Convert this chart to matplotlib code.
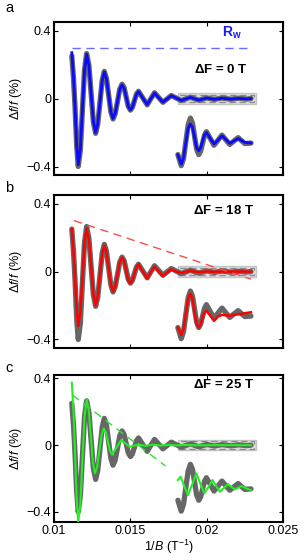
import matplotlib
matplotlib.use("Agg")
import matplotlib.pyplot as plt
from matplotlib.patches import Rectangle

plt.rcParams['font.family'] = ['Liberation Sans', 'DejaVu Sans']
plt.rcParams['mathtext.fontset'] = 'custom'
plt.rcParams['mathtext.rm'] = 'Liberation Sans'
plt.rcParams['mathtext.it'] = 'Liberation Sans:italic'
plt.rcParams['mathtext.bf'] = 'Liberation Sans:bold'

# measured oscillation (same in all panels) and fits, on a shared 1/B grid
x_main = [0.01116, 0.01127, 0.01137, 0.01148, 0.01158,
          0.01172, 0.011855, 0.01199, 0.01213,
          0.01228, 0.012425, 0.01257, 0.01272,
          0.01286, 0.013005, 0.01315, 0.01329,
          0.01343, 0.013575, 0.01372, 0.01386,
          0.014, 0.014155, 0.0143, 0.01445,
          0.01459, 0.014725, 0.01486, 0.0150,
          0.01513, 0.015265, 0.0154, 0.01553,
          0.015815, 0.0161, 0.01634, 0.01658,
          0.016855, 0.01713, 0.017405, 0.01768,
          0.0180, 0.01833, 0.01863, 0.01893,
          0.0192, 0.01948,
          0.0200, 0.0205, 0.0210, 0.0216, 0.0221, 0.0226, 0.0229]
y_data = [0.25, 0.12, -0.05, -0.28, -0.40,
          -0.303, -0.068, 0.167, 0.265,
          0.196, 0.03, -0.136, -0.205,
          -0.151, -0.022, 0.107, 0.16,
          0.119, 0.02, -0.079, -0.12,
          -0.090, -0.017, 0.055, 0.085,
          0.063, 0.008, -0.046, -0.068,
          -0.052, -0.012, 0.027, 0.043,
          0.003, -0.037, -0.001, 0.034,
          0.006, -0.022, -0.002, 0.018,
          0.003, -0.012, -0.002, 0.008,
          -0.001, -0.010,
          0.004, -0.005, 0.003, -0.004, 0.002, -0.003, 0.0]
y_fit_a = [0.27, 0.13, -0.05, -0.28, -0.39,
           -0.297, -0.065, 0.165, 0.262,
           0.194, 0.03, -0.134, -0.20,
           -0.148, -0.022, 0.105, 0.156,
           0.117, 0.02, -0.078, -0.117,
           -0.088, -0.017, 0.053, 0.081,
           0.060, 0.008, -0.045, -0.067,
           -0.051, -0.012, 0.026, 0.041,
           0.003, -0.035, -0.001, 0.032,
           0.005, -0.021, -0.002, 0.017,
           0.003, -0.011, -0.002, 0.007,
           -0.001, -0.009,
           0.003, -0.004, 0.002, -0.003, 0.001, -0.002, 0.0]
y_fit_b = [0.25, 0.12, -0.04, -0.22, -0.32,
           -0.24, -0.04, 0.165, 0.255,
           0.19, 0.028, -0.13, -0.20,
           -0.148, -0.022, 0.105, 0.153,
           0.115, 0.018, -0.078, -0.117,
           -0.088, -0.017, 0.057, 0.083,
           0.062, 0.007, -0.05, -0.07,
           -0.053, -0.013, 0.027, 0.043,
           0.0, -0.041, -0.004, 0.029,
           0.002, -0.027, -0.005, 0.013,
           0.0, -0.008, -0.001, 0.004,
           0.0, -0.003,
           0.001, -0.001, 0.0, 0.0, 0.0, 0.0, 0.0]

x_fit_c = [0.01116, 0.01127, 0.01137, 0.01148, 0.01158,
           0.01172, 0.011855, 0.01199, 0.01213,
           0.01227, 0.012405, 0.01254, 0.01268,
           0.01282, 0.012965, 0.01311, 0.01325,
           0.01339, 0.013525, 0.01366, 0.0138,
           0.014095, 0.01439, 0.01467, 0.01495,
           0.0155, 0.016, 0.0165, 0.017, 0.0175, 0.018,
           0.0185, 0.0195, 0.0205, 0.0229]
y_fit_c = [0.374, 0.2, -0.04, -0.33, -0.46,
           -0.352, -0.0925, 0.167, 0.275,
           0.21, 0.053, -0.104, -0.169,
           -0.13, -0.0345, 0.06, 0.10,
           0.077, 0.022, -0.033, -0.056,
           -0.013, 0.03, 0.01, -0.01,
           0.003, -0.004, 0.003, -0.003, 0.002, -0.002,
           0.001, -0.001, 0.0, 0.0]

# magnified tail (0.018-0.023), shown offset below
x_inset = [0.01811, 0.01833, 0.01848, 0.01863, 0.01878, 0.01893, 0.01907,
           0.019205, 0.01934, 0.01948, 0.0196, 0.01973, 0.01986, 0.01998,
           0.02023, 0.02048, 0.02074, 0.021, 0.02125, 0.02151, 0.02178,
           0.02206, 0.02228, 0.0225, 0.0229]
y_inset_data = [-0.33, -0.395, -0.354, -0.255, -0.156, -0.115, -0.146,
                -0.2225, -0.298, -0.33, -0.31, -0.2625, -0.215, -0.195,
                -0.235, -0.275, -0.245, -0.215, -0.2425, -0.27, -0.25,
                -0.23, -0.248, -0.265, -0.262]
y_inset_a = [-0.331, -0.386, -0.35, -0.26, -0.175, -0.15, -0.17,
             -0.23, -0.29, -0.308, -0.29, -0.25, -0.212, -0.20,
             -0.234, -0.268, -0.244, -0.219, -0.241, -0.264, -0.25,
             -0.235, -0.247, -0.258, -0.262]
y_inset_b = [-0.33, -0.375, -0.34, -0.25, -0.16, -0.13, -0.16,
             -0.24, -0.31, -0.33, -0.31, -0.27, -0.24, -0.23,
             -0.26, -0.29, -0.265, -0.255, -0.258, -0.26, -0.255,
             -0.252, -0.25, -0.245, -0.24]
x_inset_c = [0.01811, 0.01829, 0.01853, 0.01877, 0.01905, 0.01932, 0.01958,
             0.01985, 0.02012, 0.02038, 0.02062, 0.02086, 0.02113, 0.0214,
             0.02162, 0.02184, 0.02206, 0.02228, 0.0226, 0.0229]
y_inset_c = [-0.209, -0.189, -0.245, -0.299, -0.235, -0.169, -0.23,
             -0.288, -0.25, -0.209, -0.245, -0.279, -0.256, -0.233,
             -0.25, -0.265, -0.255, -0.245, -0.26, -0.269]

# envelope guides
env_a_x = [0.0112, 0.0229]
env_a_y = [0.30, 0.30]
env_b_x = [0.0113, 0.0229]
env_b_y = [0.30, -0.045]
env_c_x = [0.0112, 0.0173]
env_c_y = [0.30, -0.125]

box_x = [0.0181, 0.0232]
box_y = [-0.03, 0.03]

panels = [
    dict(letter='a', label=r'$\mathbf{\Delta F}$ = 0 T', label_pos=(0.0209, 0.17),
         color='#0a0aff', lw=2.0, env_color='#6b6bff',
         fit=(x_main, y_fit_a), inset=(x_inset, y_inset_a),
         env=(env_a_x, env_a_y), ylim=(-0.45, 0.45), rect=[0.178, 0.6875, 0.753, 0.273]),
    dict(letter='b', label=r'$\mathbf{\Delta F}$ = 18 T', label_pos=(0.0211, 0.36),
         color='#ff0000', lw=1.8, env_color='#ff4a4a',
         fit=(x_main, y_fit_b), inset=(x_inset, y_inset_b),
         env=(env_b_x, env_b_y), ylim=(-0.45, 0.45), rect=[0.178, 0.3786, 0.753, 0.273]),
    dict(letter='c', label=r'$\mathbf{\Delta F}$ = 25 T', label_pos=(0.0211, 0.36),
         color='#22ee22', lw=1.5, env_color='#33dd33',
         fit=(x_fit_c, y_fit_c), inset=(x_inset_c, y_inset_c),
         env=(env_c_x, env_c_y), ylim=(-0.46, 0.42), rect=[0.178, 0.0679, 0.753, 0.2625]),
]

fig = plt.figure(figsize=(3.04, 5.6), dpi=100)

for i, p in enumerate(panels):
    ax = fig.add_axes(p['rect'])

    ax.add_patch(Rectangle((box_x[0], box_y[0]), box_x[1] - box_x[0], box_y[1] - box_y[0],
                           facecolor='#dcdcdc', edgecolor='#c4c4c4', lw=1.0, zorder=1))
    ax.add_patch(Rectangle((box_x[0] + 0.00008, box_y[0] + 0.008),
                           box_x[1] - box_x[0] - 0.00016, box_y[1] - box_y[0] - 0.016,
                           facecolor='none', edgecolor='#8a8a8a', lw=0.9,
                           ls=(0, (5, 3)), zorder=2))

    ax.plot(x_main, y_data, color='#666666', lw=3.8, solid_capstyle='round', zorder=3)
    ax.plot(x_inset, y_inset_data, color='#666666', lw=3.8, solid_capstyle='round', zorder=3)
    ax.plot(*p['fit'], color=p['color'], lw=p['lw'], zorder=4)
    ax.plot(*p['inset'], color=p['color'], lw=p['lw'], zorder=4)
    ax.plot(*p['env'], color=p['env_color'], lw=1.0, ls=(0, (6, 4)), zorder=5)

    ax.text(*p['label_pos'], p['label'], fontsize=9.5, fontweight='bold',
            ha='center', va='center')
    if i == 0:
        ax.text(0.02165, 0.39, r'$\mathbf{R_w}$', color='#1a1aff', fontsize=10,
                ha='center', va='center')

    ax.set_xlim(0.01, 0.025)
    ax.set_ylim(*p['ylim'])
    ax.set_xticks([0.01, 0.015, 0.02, 0.025])
    ax.set_yticks([-0.4, 0, 0.4])
    ax.set_yticklabels(['\u22120.4', '0', '0.4'])
    ax.tick_params(direction='in', length=3, width=0.8, top=True, right=True,
                   labelsize=9, pad=2)
    for s in ax.spines.values():
        s.set_linewidth(1.5)
    if i < 2:
        ax.set_xticklabels([])
    else:
        ax.set_xticklabels(['0.01', '0.015', '0.02', '0.025'])
        ax.set_xlabel(r'$1/B$ (T$^{-1}$)', fontsize=9, labelpad=1)
    ax.set_ylabel(r'$\Delta f/f$ (%)', fontsize=9, labelpad=2)

    fig.text(0.017, 1 - (8 + 180 * i) / 560, p['letter'], fontsize=10.5,
             ha='left', va='center')

fig.savefig('out.png', dpi=100)
